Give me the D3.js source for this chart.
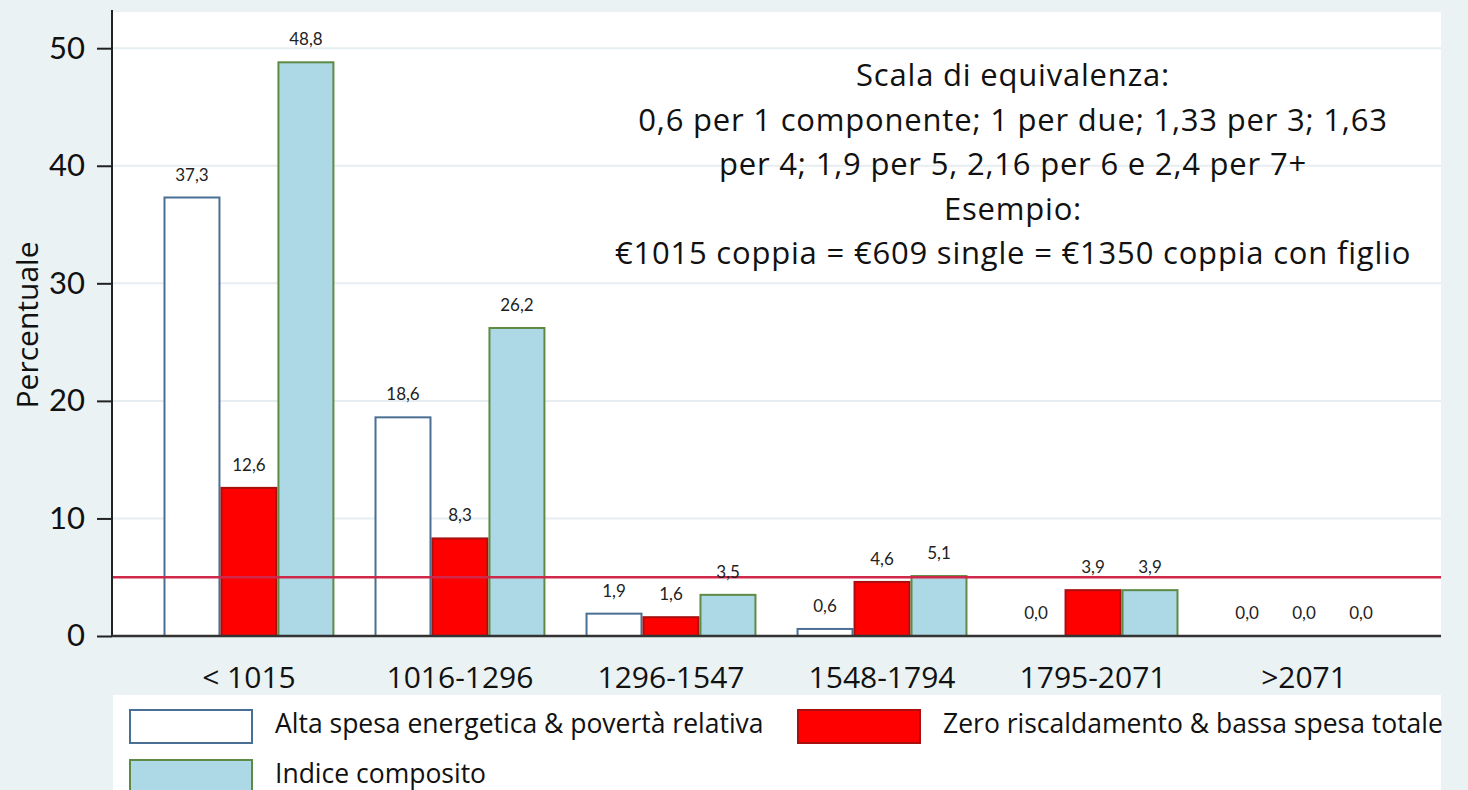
<!DOCTYPE html>
<html><head><meta charset="utf-8">
<script src="https://cdn.jsdelivr.net/npm/d3@7"></script>
<style>body{margin:0;background:#eaf2f3;}svg{display:block;}</style>
</head><body>
<svg id="c" width="1468" height="790"></svg>
<script>
const categories = ["< 1015","1016-1296","1296-1547","1548-1794","1795-2071",">2071"];
const seriesNames = ["Alta spesa energetica & povertà relativa","Zero riscaldamento & bassa spesa totale","Indice composito"];
const altaSpesa = [37.3,18.6,1.9,0.6,0.0,0.0];
const zeroRisc = [12.6,8.3,1.6,4.6,3.9,0.0];
const indiceComp = [48.8,26.2,3.5,5.1,3.9,0.0];
const yTicks = [0,10,20,30,40,50];
const refLine = 5;
const noteLines = ["Scala di equivalenza:","0,6 per 1 componente; 1 per due; 1,33 per 3; 1,63","per 4; 1,9 per 5, 2,16 per 6 e 2,4 per 7+","Esempio:","€1015 coppia = €609 single = €1350 coppia con figlio"];

const series = [altaSpesa, zeroRisc, indiceComp];
const fills = ["#ffffff","#ff0000","#add8e6"];
const strokes = ["#4a6f94","#a81010","#5d8a45"];

const svg = d3.select("#c");
const L=112, R=1441, T=12, B=636;
svg.append("rect").attr("x",L).attr("y",T).attr("width",R-L).attr("height",B-T).attr("fill","#fff");

const y = d3.scaleLinear().domain([0,50]).range([B,48.2]);
const x = d3.scaleBand().domain(categories).range([L,R]).paddingInner(0.19).paddingOuter(0.244);
const xi = d3.scaleBand().domain([0,1,2]).range([0,x.bandwidth()]).padding(0);

// grid
svg.append("g").selectAll("line").data(yTicks.filter(d=>d>0)).join("line")
  .attr("x1",L).attr("x2",R).attr("y1",d=>y(d)).attr("y2",d=>y(d))
  .attr("stroke","#e6eef1").attr("stroke-width",2);

// bars
const g = svg.append("g");
categories.forEach((c,ci)=>{
  series.forEach((s,si)=>{
    const v = s[ci];
    if(v>0){
      g.append("rect").attr("x",x(c)+xi(si)+1).attr("y",y(v))
        .attr("width",xi.bandwidth()-2).attr("height",y(0)-y(v))
        .attr("fill",fills[si]).attr("stroke",strokes[si]).attr("stroke-width",2);
    }
  });
});

// reference line
svg.append("line").attr("x1",L).attr("x2",R).attr("y1",y(refLine)).attr("y2",y(refLine))
  .attr("stroke","#d0284a").attr("stroke-width",2.5);

// value labels
categories.forEach((c,ci)=>{
  series.forEach((s,si)=>{
    const v = s[ci];
    svg.append("text").attr("x",x(c)+xi(si)+xi.bandwidth()/2).attr("y",y(v)-17)
      .attr("text-anchor","middle").attr("font-family","Lato, 'Open Sans', sans-serif")
      .attr("font-size",17).attr("fill","#222").text(d3.format(".1f")(v).replace(".",","));
  });
});

// axes
const ya = svg.append("g").attr("transform",`translate(${L},0)`)
  .call(d3.axisLeft(y).tickValues(yTicks).tickSize(15).tickPadding(12));
ya.select(".domain").attr("d",`M0,${T-2}V${B}`).attr("stroke","#222").attr("stroke-width",2);
ya.selectAll(".tick line").attr("stroke","#222").attr("stroke-width",2);
ya.selectAll(".tick text").attr("font-family","Lato, sans-serif").attr("font-size",31).attr("fill","#111");

const xa = svg.append("g").attr("transform",`translate(0,${B})`)
  .call(d3.axisBottom(x).tickSize(0).tickPadding(42));
xa.select(".domain").attr("d",`M${L},0H${R}`).attr("stroke","#333").attr("stroke-width",2.5);
xa.selectAll(".tick text").attr("font-family","'Open Sans',sans-serif").attr("font-size",30).attr("fill","#111").attr("dy","0.32em");

svg.append("text").attr("transform","translate(38,325) rotate(-90)").attr("text-anchor","middle")
  .attr("font-family","'Open Sans',sans-serif").attr("font-size",30).attr("fill","#111").text("Percentuale");

// note
svg.append("g").selectAll("text").data(noteLines).join("text")
  .attr("x",1013).attr("y",(d,i)=>86+i*44.5).attr("text-anchor","middle")
  .attr("font-family","'Open Sans',sans-serif").attr("font-size",31).attr("letter-spacing",0.8)
  .attr("fill","#111").text(d=>d);

// legend
svg.append("rect").attr("x",113).attr("y",695).attr("width",R-113).attr("height",100).attr("fill","#fff");
const leg = [
  {x:130,y:710,i:0},{x:798,y:710,i:1},{x:130,y:760,i:2}
];
leg.forEach(d=>{
  svg.append("rect").attr("x",d.x).attr("y",d.y).attr("width",122).attr("height",33)
    .attr("fill",fills[d.i]).attr("stroke",strokes[d.i]).attr("stroke-width",2);
  svg.append("text").attr("x",d.x+145).attr("y",d.y+23)
    .attr("font-family","'Open Sans',sans-serif").attr("font-size",26.5).attr("fill","#111").text(seriesNames[d.i]);
});
</script>
</body></html>
